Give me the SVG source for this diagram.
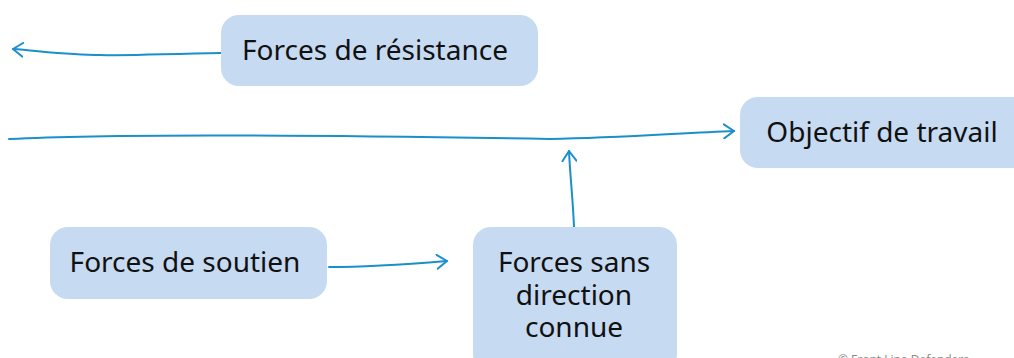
<svg xmlns="http://www.w3.org/2000/svg" width="1014" height="358" viewBox="0 0 1014 358">
<style>
.box{fill:#c6daf1;stroke:none}
.lbl{font-family:"Noto Sans","Liberation Sans",sans-serif;font-size:28px;fill:#111}
.edge{fill:none;stroke:#1a8fcc;stroke-width:2;stroke-linecap:round}
.copy{font-family:"Open Sans","Liberation Sans",sans-serif;font-size:12px;fill:#888}
</style>
<defs>
<marker id="arr" viewBox="0 0 12 16" refX="11" refY="8" markerWidth="12" markerHeight="16" markerUnits="userSpaceOnUse" orient="auto">
<path d="M1 1 L11 8 L1 15" fill="none" stroke="#1a8fcc" stroke-width="2" stroke-linecap="round" stroke-linejoin="round"/>
</marker>
</defs>
<rect width="1014" height="358" fill="#fff"/>
<g id="connectors">
<path class="edge" d="M221 53 C160 54 130 56 100 55 C70 55 40 51 13 49" marker-end="url(#arr)"/>
<path class="edge" d="M9 139 C120 133 380 136 550 139 C620 138 680 133 734 131" marker-end="url(#arr)"/>
<path class="edge" d="M574 227 C573 200 570 175 569 151" marker-end="url(#arr)"/>
<path class="edge" d="M329 267 C370 267 410 264 447 261" marker-end="url(#arr)"/>
</g>
<g id="node-resistance">
<rect class="box" x="221" y="15" width="317" height="71" rx="18"/>
<text class="lbl" x="375" y="60" text-anchor="middle">Forces de résistance</text>
</g>
<g id="node-objectif">
<rect class="box" x="740" y="97" width="290" height="71" rx="18"/>
<text class="lbl" x="882" y="142" text-anchor="middle">Objectif de travail</text>
</g>
<g id="node-soutien">
<rect class="box" x="50" y="227" width="277" height="72" rx="18"/>
<text class="lbl" x="185" y="272" text-anchor="middle">Forces de soutien</text>
</g>
<g id="node-sans-direction">
<rect class="box" x="473" y="227" width="204" height="145" rx="18"/>
<text class="lbl" x="574" y="272" text-anchor="middle">Forces sans</text>
<text class="lbl" x="574" y="305" text-anchor="middle">direction</text>
<text class="lbl" x="574" y="337" text-anchor="middle">connue</text>
</g>
<text class="copy" x="838" y="364">© Front Line Defenders</text>
</svg>
